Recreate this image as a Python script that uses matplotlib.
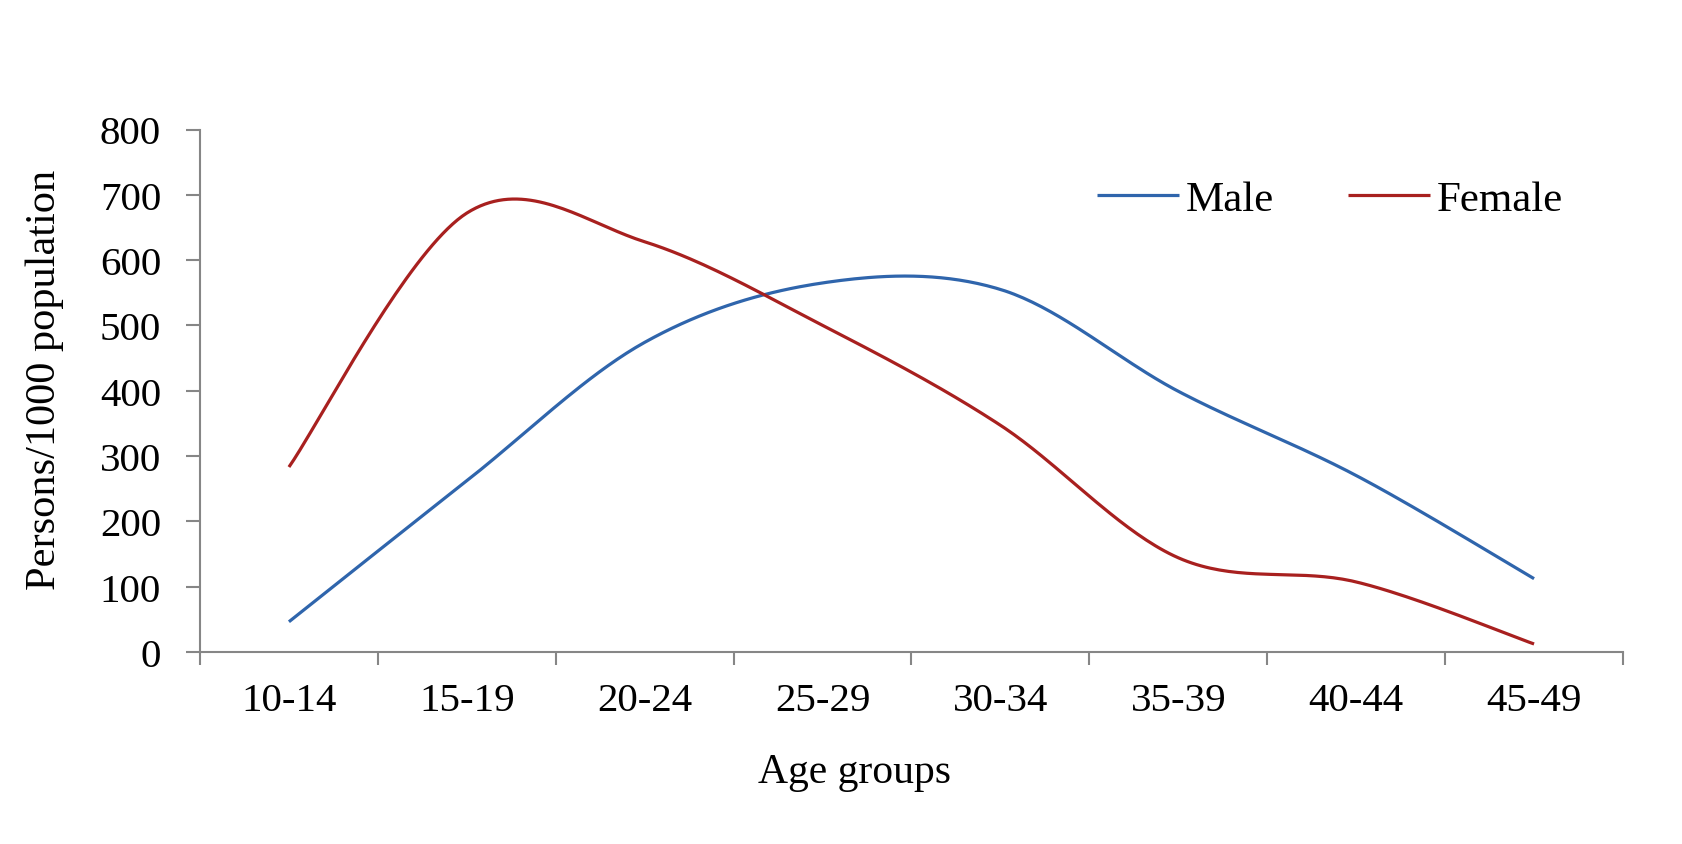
import matplotlib
matplotlib.use('Agg')
import matplotlib.pyplot as plt
import numpy as np

# данные
age_groups = ['10-14', '15-19', '20-24', '25-29', '30-34', '35-39', '40-44', '45-49']
male = [46, 262, 474, 565, 555, 399, 270, 112]
female = [283, 672, 628, 500, 347, 144, 107, 12]
y_ticks = [0, 100, 200, 300, 400, 500, 600, 700, 800]


def smooth(xs, ys, n=40):
    # сглаживание как в Excel (Catmull-Rom через точки)
    xs = np.asarray(xs, float)
    ys = np.asarray(ys, float)
    px = np.concatenate([[xs[0]], xs, [xs[-1]]])
    py = np.concatenate([[ys[0]], ys, [ys[-1]]])
    out_x, out_y = [], []
    t = np.linspace(0, 1, n)
    for i in range(1, len(px) - 2):
        x0, x1, x2, x3 = px[i - 1], px[i], px[i + 1], px[i + 2]
        y0, y1, y2, y3 = py[i - 1], py[i], py[i + 1], py[i + 2]
        bx = [x1, x1 + (x2 - x0) / 6, x2 - (x3 - x1) / 6, x2]
        by = [y1, y1 + (y2 - y0) / 6, y2 - (y3 - y1) / 6, y2]
        b = [(1 - t) ** 3, 3 * t * (1 - t) ** 2, 3 * t ** 2 * (1 - t), t ** 3]
        out_x.extend(sum(c * v for c, v in zip(b, bx)))
        out_y.extend(sum(c * v for c, v in zip(b, by)))
    return np.array(out_x), np.array(out_y)


plt.rcParams['font.family'] = ['Liberation Serif', 'DejaVu Serif']

fig = plt.figure(figsize=(16.82, 8.45), dpi=100)
ax = fig.add_axes([200 / 1682, 1 - 652.8 / 845, 1423 / 1682, 522.3 / 845])

x = np.arange(len(age_groups))
mx, my = smooth(x, male)
fx, fy = smooth(x, female)
ax.plot(mx, my, color='#2F65AC', lw=2.3, label='Male', solid_capstyle='butt')
ax.plot(fx, fy, color='#A8201F', lw=2.3, label='Female', solid_capstyle='butt')

ax.set_xlim(-0.5, len(age_groups) - 0.5)
ax.set_ylim(0, 800)
ax.set_yticks(y_ticks)
ax.set_xticks(x)
ax.set_xticklabels(age_groups)
ax.set_xticks(np.arange(-0.5, len(age_groups)), minor=True)

grey = '#868686'
for s in ['top', 'right']:
    ax.spines[s].set_visible(False)
for s in ['left', 'bottom']:
    ax.spines[s].set_color(grey)
    ax.spines[s].set_linewidth(1.5)

ax.tick_params(axis='x', which='major', length=0, pad=22, labelsize=29.5)
ax.tick_params(axis='x', which='minor', length=9.5, width=1.5, color=grey, direction='out')
ax.tick_params(axis='y', length=10, width=1.5, color=grey, direction='out', pad=18, labelsize=29.5)

ax.set_xlabel('Age groups', fontsize=30, va='baseline')
ax.xaxis.set_label_coords(0.4596, -0.249)
ax.set_ylabel('Persons/1000 population', fontsize=30.5, va='center')
ax.yaxis.set_label_coords(-0.109, 0.522)

fig.legend(loc='center left', bbox_to_anchor=(1097 / 1682, 1 - 200 / 845), ncol=2,
           frameon=False, fontsize=31, handlelength=1.9, handletextpad=0.16,
           columnspacing=1.73, borderpad=0, borderaxespad=0)

fig.savefig('out.png', dpi=100)
